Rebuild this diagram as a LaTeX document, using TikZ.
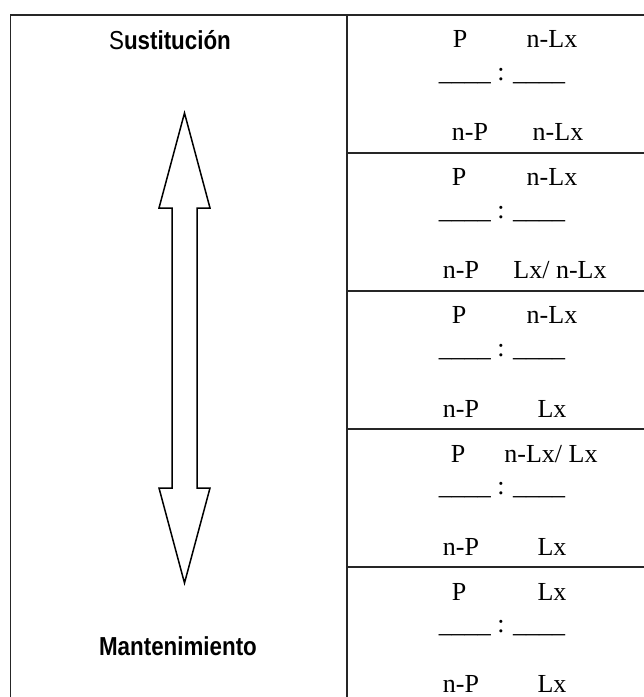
\documentclass[tikz,border=0pt]{standalone}
\usepackage{fontspec}
\setmainfont{Liberation Serif}
\newfontfamily\labelfont[FakeStretch=0.86]{Liberation Sans}

\begin{document}
\begin{tikzpicture}[x=1pt, y=-1pt,
    every node/.style={anchor=base, inner sep=0pt, font=\fontsize{26}{30}\selectfont},
    rule/.style={line width=1.3pt, draw=black!85},
    side/.style={font=\labelfont\fontsize{26}{30}\selectfont}]
    \useasboundingbox (0,0) rectangle (644,697);
    % frame of the table
    \draw[rule] (10.5,697) -- (10.5,15) -- (644,15);
    \draw[rule] (347,15) -- (347,697);
    \foreach \y in {153,291,429,567}
      \draw[rule] (347,\y) -- (644,\y);
    % left column
    \node [side] (sust) at (170,49) {S\bfseries ustitución};
    \node [side] (mant) at (178,655) {\bfseries Mantenimiento};
    \draw [line width=1.5pt, line join=miter] (184.5,113) -- (210,208) -- (197,208) -- (197,488)
      -- (210,488) -- (184.5,583) -- (159,488) -- (172,488) -- (172,208) -- (159,208) -- cycle;
    % right column
    \node (p1) at (460,47) {P};
    \node (q1) at (552,47) {n-Lx};
    \node (r1) at (502,80) {\_\_\_\_ : \_\_\_\_};
    \node (s1) at (470,140) {n-P};
    \node (u1) at (558,140) {n-Lx};
    \node (p2) at (459,185) {P};
    \node (q2) at (552,185) {n-Lx};
    \node (r2) at (502,218) {\_\_\_\_ : \_\_\_\_};
    \node (s2) at (461,278) {n-P};
    \node (u2) at (560,278) {Lx/ n-Lx};
    \node (p3) at (459,323) {P};
    \node (q3) at (552,323) {n-Lx};
    \node (r3) at (502,356) {\_\_\_\_ : \_\_\_\_};
    \node (s3) at (461,417) {n-P};
    \node (u3) at (552,417) {Lx};
    \node (p4) at (458,462) {P};
    \node (q4) at (551,462) {n-Lx/ Lx};
    \node (r4) at (502,494) {\_\_\_\_ : \_\_\_\_};
    \node (s4) at (461,555) {n-P};
    \node (u4) at (552,555) {Lx};
    \node (p5) at (459,600) {P};
    \node (q5) at (552,600) {Lx};
    \node (r5) at (502,632) {\_\_\_\_ : \_\_\_\_};
    \node (s5) at (461,692) {n-P};
    \node (u5) at (552,692) {Lx};
\end{tikzpicture}
\end{document}
